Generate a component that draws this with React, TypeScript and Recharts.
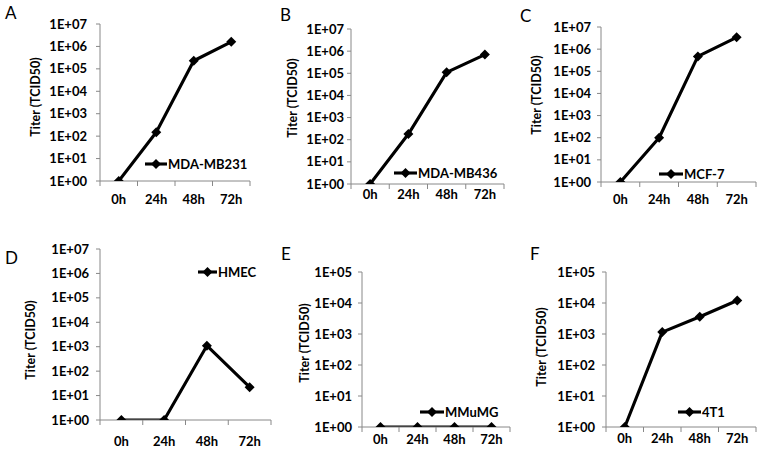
import React from 'react';
import { LineChart, Line, XAxis, YAxis, Legend } from 'recharts';

// ---- data ----
const categories = ['0h', '24h', '48h', '72h'];
const mdaMb231 = [1, 150, 230000, 1600000];
const mdaMb436 = [1, 180, 110000, 700000];
const mcf7 = [1, 100, 470000, 3400000];
const hmec = [1, 1, 1100, 22];
const mmumg = [1, 1, 1, 1];
const t4t1 = [1, 1150, 3600, 12000];
const yTicks7 = [1, 10, 100, 1000, 10000, 100000, 1000000, 10000000];
const yTicks5 = [1, 10, 100, 1000, 10000, 100000];
const yTitle = 'Titer (TCID50)';

// ---- layout ----
const W = 762;
const H = 455;
const FONT = 'Lato, "Open Sans", sans-serif';
const AXIS_COLOR = '#888888';
const LINE_W = 3.1;

type Panel = {
  letter: string;
  name: string;
  values: number[];
  yTicks: number[];
  left: number;
  right: number;
  top: number;
  bottom: number;
  titleX: number;
  titleY: number;
  xLabOff: number;
  yGap: number;
  legX: number;
  legY: number;
  legLen: number;
  letterX: number;
  letterY: number;
};

const panels: Panel[] = [
  { letter: 'A', name: 'MDA-MB231', values: mdaMb231, yTicks: yTicks7, left: 100, right: 250, top: 24, bottom: 181, titleX: 35, titleY: 97, xLabOff: 18, yGap: 13, legX: 145, legY: 164, legLen: 22, letterX: 5, letterY: 19 },
  { letter: 'B', name: 'MDA-MB436', values: mdaMb436, yTicks: yTicks7, left: 351, right: 504, top: 29, bottom: 184, titleX: 292, titleY: 98, xLabOff: 10, yGap: 7, legX: 394, legY: 173, legLen: 23, letterX: 280, letterY: 21 },
  { letter: 'C', name: 'MCF-7', values: mcf7, yTicks: yTicks7, left: 601, right: 756, top: 27, bottom: 182, titleX: 536, titleY: 95, xLabOff: 17, yGap: 10, legX: 659, legY: 174, legLen: 24, letterX: 520, letterY: 22 },
  { letter: 'D', name: 'HMEC', values: hmec, yTicks: yTicks7, left: 100, right: 271, top: 249, bottom: 420, titleX: 30, titleY: 340, xLabOff: 21, yGap: 11, legX: 198, legY: 272, legLen: 19, letterX: 5, letterY: 264 },
  { letter: 'E', name: 'MMuMG', values: mmumg, yTicks: yTicks5, left: 362, right: 510, top: 272, bottom: 427, titleX: 304, titleY: 343, xLabOff: 12, yGap: 10, legX: 420, legY: 412, legLen: 24, letterX: 281, letterY: 260 },
  { letter: 'F', name: '4T1', values: t4t1, yTicks: yTicks5, left: 606, right: 756, top: 272, bottom: 427, titleX: 541, titleY: 347, xLabOff: 11, yGap: 11, legX: 678, legY: 412, legLen: 23, letterX: 530, letterY: 260 },
];

const Y_AXIS_W = 60;
const X_AXIS_H = 30;

const xTickValues = [0, 0.5, 1, 1.5, 2, 2.5, 3, 3.5, 4];

const fmtY = (v: number) => {
  const e = Math.round(Math.log10(v));
  return `1E+${e < 10 ? '0' + e : e}`;
};

const diamondPath = (cx: number, cy: number, r = 5) =>
  `M${cx},${cy - r}L${cx + r},${cy}L${cx},${cy + r}L${cx - r},${cy}Z`;

function PanelChart({ p }: { p: Panel }) {
  const rows = p.values.map((v, i) => ({ x: i + 0.5, v, cat: categories[i] }));
  const yMax = p.yTicks[p.yTicks.length - 1];

  const XTick = (props: any) => {
    const { x, y, payload } = props;
    const val = payload.value as number;
    if (Number.isInteger(val)) {
      return <line x1={x} y1={y} x2={x} y2={y + 5} stroke={AXIS_COLOR} strokeWidth={1} />;
    }
    return (
      <text x={x} y={y + p.xLabOff} textAnchor="middle" dominantBaseline="central" fontFamily={FONT} fontWeight={700} fontSize={13} fill="#000">
        {categories[Math.round(val - 0.5)]}
      </text>
    );
  };

  const Title = () => (
    <text
      transform={`translate(${p.titleX},${p.titleY}) rotate(-90)`}
      textAnchor="middle"
      dominantBaseline="central"
      fontFamily={FONT}
      fontWeight={700}
      fontSize={12.5}
      fill="#000"
    >
      {yTitle}
    </text>
  );

  const LegendContent = (props: any) => {
    const label = props.payload && props.payload[0] ? props.payload[0].value : p.name;
    return (
      <div style={{ display: 'flex', alignItems: 'center', height: 16, whiteSpace: 'nowrap' }}>
        <svg width={p.legLen} height={16} style={{ display: 'block' }}>
          <line x1={0} y1={8} x2={p.legLen} y2={8} stroke="#000" strokeWidth={LINE_W} />
          <path d={diamondPath(p.legLen / 2, 8)} fill="#000" />
        </svg>
        <span style={{ fontFamily: FONT, fontWeight: 700, fontSize: 13, marginLeft: 1, lineHeight: '16px', color: '#000' }}>{label}</span>
      </div>
    );
  };

  return (
    <div style={{ position: 'absolute', left: 0, top: 0, width: W, height: H }}>
      <LineChart
        width={W}
        height={H}
        data={rows}
        margin={{ top: p.top, left: p.left - Y_AXIS_W, right: W - p.right, bottom: H - p.bottom - X_AXIS_H }}
      >
        <XAxis
          dataKey="x"
          type="number"
          domain={[0, 4]}
          ticks={xTickValues}
          interval={0}
          height={X_AXIS_H}
          tickSize={0}
          tickMargin={0}
          tickLine={false}
          axisLine={{ stroke: AXIS_COLOR, strokeWidth: 1 }}
          tick={XTick}
        />
        <YAxis
          type="number"
          scale="log"
          domain={[1, yMax]}
          ticks={p.yTicks}
          interval={0}
          width={Y_AXIS_W}
          tickSize={4}
          tickMargin={p.yGap - 4}
          tickFormatter={fmtY}
          tick={{ fontFamily: FONT, fontWeight: 700, fontSize: 13, fill: '#000' }}
          tickLine={{ stroke: AXIS_COLOR, strokeWidth: 1 }}
          axisLine={{ stroke: AXIS_COLOR, strokeWidth: 1 }}
          allowDataOverflow
          label={Title}
        />
        <Legend
          layout="vertical"
          align="center"
          verticalAlign="middle"
          content={LegendContent}
          wrapperStyle={{ left: p.legX, top: p.legY - 8, width: 'auto', height: 'auto', margin: 0 }}
        />
        <Line
          dataKey="v"
          name={p.name}
          stroke="#000"
          strokeWidth={LINE_W}
          strokeLinejoin="round"
          isAnimationActive={false}
          dot={(d: any) => <path key={`d-${d.index}`} d={diamondPath(d.cx, d.cy)} fill="#000" />}
          activeDot={false}
        />
      </LineChart>
    </div>
  );
}

export default function App() {
  return (
    <div style={{ position: 'absolute', left: 0, top: 0, width: W, height: H, background: '#fff', overflow: 'hidden' }}>
      {panels.map((p) => (
        <PanelChart key={p.letter} p={p} />
      ))}
      <svg width={W} height={H} style={{ position: 'absolute', left: 0, top: 0, pointerEvents: 'none' }}>
        {panels.map((p) => (
          <text key={p.letter} x={p.letterX} y={p.letterY} fontFamily={FONT} fontSize={17} fill="#000">
            {p.letter}
          </text>
        ))}
      </svg>
    </div>
  );
}
